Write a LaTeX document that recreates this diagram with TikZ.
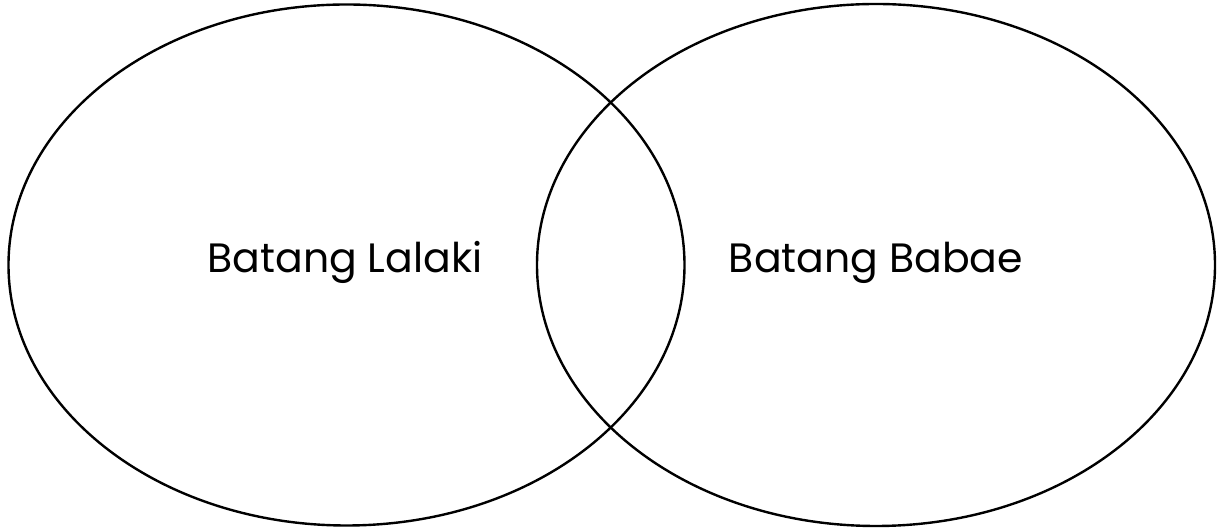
\documentclass[tikz,border=0pt]{standalone}
\usepackage{fontspec}
\setmainfont{Poppins}
\begin{document}
\begin{tikzpicture}[x=1pt,y=1pt,
  venn/.style={draw=black,line width=2.4pt},
  lbl/.style={font=\fontsize{41}{46}\selectfont,anchor=base}]
\useasboundingbox (0,0) rectangle (1218,529);
\draw[venn] (346.5,264) ellipse [x radius=338, y radius=260.5];
\draw[venn] (876,264) ellipse [x radius=339, y radius=261];
\node[lbl] (l) at (345,256) {Batang Lalaki};
\node[lbl] (r) at (876,256) {Batang Babae};
\end{tikzpicture}
\end{document}
